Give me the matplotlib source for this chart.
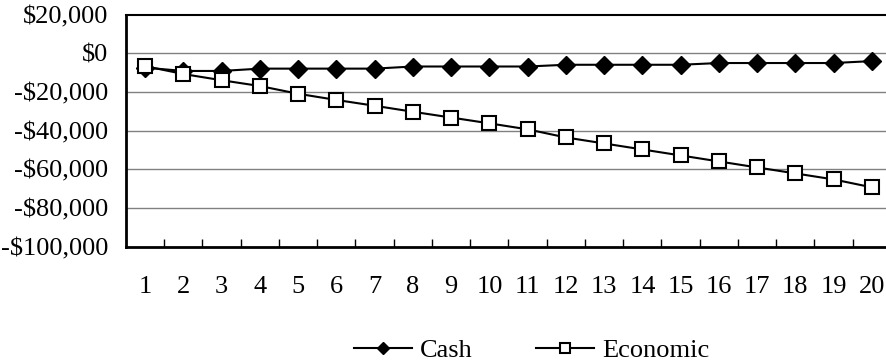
import numpy as np
import matplotlib
matplotlib.use("Agg")
import matplotlib.pyplot as plt
from matplotlib.ticker import FuncFormatter, FixedLocator

# values
periods = list(range(1, 21))
cash = [-7500, -9200, -9200, -8000, -8000, -8000, -8000, -6900, -6900, -6900,
        -6900, -6000, -6000, -6000, -6000, -5100, -5100, -5100, -5100, -4100]
economic = [-6700, -10800, -14000, -17000, -21000, -24200, -27200, -30300, -33300, -36300,
            -39400, -43600, -46700, -49800, -52900, -56000, -59100, -62200, -65300, -69400]
y_ticks = [20000, 0, -20000, -40000, -60000, -80000, -100000]

plt.rcParams['font.family'] = ['Liberation Serif', 'DejaVu Serif']

W, H = 887, 364
fig = plt.figure(figsize=(W / 100, H / 100), dpi=100)
# plot area runs a bit past the right edge of the picture, like the original
left, right, top, bottom = 126, 891, 14.5, 246.5
ax = fig.add_axes([left / W, 1 - bottom / H, (right - left) / W, (bottom - top) / H])

ax.plot(periods, cash, color='black', lw=1.5, marker='D', markersize=9,
        markerfacecolor='black', markeredgecolor='black', label='Cash', zorder=3)
ax.plot(periods, economic, color='black', lw=1.5, marker='s', markersize=10,
        markerfacecolor='white', markeredgecolor='black', markeredgewidth=1.5,
        label='Economic', zorder=4)

ax.set_xlim(0.5, 20.5)
ax.set_ylim(-100000, 20000)

for v in y_ticks[1:-1]:
    ax.axhline(v, color='#808080', lw=1, zorder=1)

ax.yaxis.set_major_locator(FixedLocator(y_ticks))
ax.yaxis.set_major_formatter(FuncFormatter(
    lambda v, p: ('-$' if v < 0 else '$') + format(abs(int(v)), ',')))
ax.tick_params(axis='y', length=0, pad=13, labelsize=19)

# ticks between categories, labels on categories
ax.xaxis.set_major_locator(FixedLocator(np.arange(1.5, 20, 1)))
ax.xaxis.set_minor_locator(FixedLocator(periods))
ax.set_xticklabels([])
ax.set_xticklabels([str(p) for p in periods], minor=True)
ax.tick_params(axis='x', which='major', direction='in', length=6, width=1, color='black')
ax.tick_params(axis='x', which='minor', length=0, pad=21, labelsize=19)

ax.spines['right'].set_visible(False)
ax.spines['left'].set_linewidth(2)
ax.spines['bottom'].set_linewidth(2)
ax.spines['top'].set_linewidth(1.5)

fig.legend(loc='center', bbox_to_anchor=(532 / W, 1 - 350 / H), ncol=2, frameon=False,
           fontsize=19, handlelength=2.2, columnspacing=2.4, handletextpad=0.3,
           markerscale=0.7, borderaxespad=0, borderpad=0)

fig.savefig('out.png', dpi=100)
